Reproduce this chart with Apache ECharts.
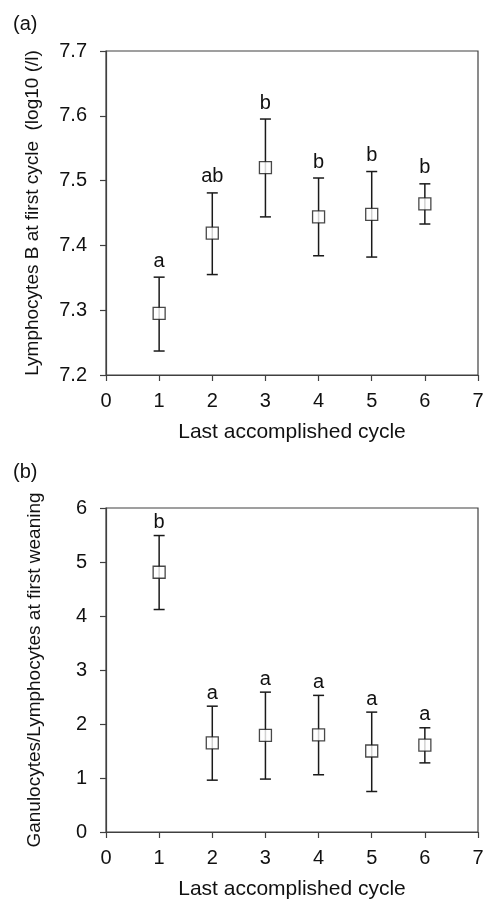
<!DOCTYPE html>
<html>
<head>
<meta charset="utf-8">
<script src="https://cdn.jsdelivr.net/npm/echarts@6/dist/echarts.min.js"></script>
<style>
  html, body { margin: 0; padding: 0; background: #fff; }
  #chart { width: 487px; height: 901px; }
</style>
</head>
<body>
<div id="chart"></div>
<script>
// ---- Data ----
const cycles = [1, 2, 3, 4, 5, 6];

// Panel (a): Lymphocytes B at first cycle (log10 (/l))
const lymphMean = [7.295, 7.419, 7.520, 7.444, 7.448, 7.464];
const lymphLow  = [7.237, 7.355, 7.444, 7.384, 7.382, 7.433];
const lymphHigh = [7.351, 7.481, 7.595, 7.504, 7.514, 7.495];
const lymphLetters = ['a', 'ab', 'b', 'b', 'b', 'b'];

// Panel (b): Granulocytes/Lymphocytes at first weaning
const ratioMean = [4.81, 1.65, 1.79, 1.80, 1.50, 1.61];
const ratioLow  = [4.12, 0.96, 0.98, 1.06, 0.75, 1.28];
const ratioHigh = [5.49, 2.33, 2.59, 2.53, 2.22, 1.93];
const ratioLetters = ['b', 'a', 'a', 'a', 'a', 'a'];

const xRange = [0, 7];
const yRangeA = [7.2, 7.7];
const yRangeB = [0, 6];

const FONT = 'Liberation Sans, Arial, Helvetica, sans-serif';
const AXIS_COLOR = '#404040';
const TEXT_COLOR = '#111';

function errorSeries(idx, low, high, letters, gap) {
  return {
    type: 'custom',
    xAxisIndex: idx, yAxisIndex: idx,
    z: 2,
    data: cycles.map((c, i) => [c, low[i], high[i]]),
    renderItem: function (params, api) {
      const x = api.value(0);
      const pLo = api.coord([x, api.value(1)]);
      const pHi = api.coord([x, api.value(2)]);
      const cap = 5.5;
      const st = { stroke: '#1a1a1a', lineWidth: 1.5 };
      return {
        type: 'group',
        children: [
          { type: 'line', shape: { x1: pHi[0], y1: pHi[1], x2: pLo[0], y2: pLo[1] }, style: st },
          { type: 'line', shape: { x1: pHi[0] - cap, y1: pHi[1], x2: pHi[0] + cap, y2: pHi[1] }, style: st },
          { type: 'line', shape: { x1: pLo[0] - cap, y1: pLo[1], x2: pLo[0] + cap, y2: pLo[1] }, style: st },
          { type: 'text', style: { text: letters[params.dataIndex], x: pHi[0], y: pHi[1] - gap,
              align: 'center', verticalAlign: 'bottom', fill: TEXT_COLOR,
              font: '20px ' + FONT } }
        ]
      };
    }
  };
}

function meanSeries(idx, mean) {
  return {
    type: 'scatter',
    xAxisIndex: idx, yAxisIndex: idx,
    z: 5,
    symbol: 'rect',
    symbolSize: 12,
    itemStyle: { color: '#fff', borderColor: '#1a1a1a', borderWidth: 1.3 },
    data: cycles.map((c, i) => [c, mean[i]])
  };
}

function xAxisDef(idx) {
  return {
    type: 'value', gridIndex: idx, min: xRange[0], max: xRange[1], interval: 1,
    name: 'Last accomplished cycle', nameLocation: 'middle', nameGap: 47,
    nameTextStyle: { fontFamily: FONT, fontSize: 21, color: TEXT_COLOR },
    axisLine: { onZero: false, lineStyle: { color: AXIS_COLOR, width: 1.2 } },
    axisTick: { inside: false, length: 6, lineStyle: { color: AXIS_COLOR, width: 1.2 } },
    axisLabel: { margin: 16, fontFamily: FONT, fontSize: 20, color: TEXT_COLOR },
    splitLine: { show: false }
  };
}

function yAxisDef(idx, range, interval, name, gap, fmt) {
  return {
    type: 'value', gridIndex: idx, min: range[0], max: range[1], interval: interval,
    name: name, nameLocation: 'middle', nameGap: gap,
    nameTextStyle: { fontFamily: FONT, fontSize: 19, color: TEXT_COLOR },
    axisLine: { show: true, onZero: false, lineStyle: { color: AXIS_COLOR, width: 1.2 } },
    axisTick: { show: true, inside: false, length: 6, lineStyle: { color: AXIS_COLOR, width: 1.2 } },
    axisLabel: { margin: 19, fontFamily: FONT, fontSize: 20, color: TEXT_COLOR, formatter: fmt },
    splitLine: { show: false }
  };
}

const chart = echarts.init(document.getElementById('chart'), null, { renderer: 'canvas' });
chart.setOption({
  backgroundColor: '#fff',
  animation: false,
  grid: [
    { left: 106, top: 51, width: 372, height: 324, show: true, borderColor: AXIS_COLOR, borderWidth: 1.2, backgroundColor: 'transparent' },
    { left: 106, top: 508, width: 372, height: 324, show: true, borderColor: AXIS_COLOR, borderWidth: 1.2, backgroundColor: 'transparent' }
  ],
  xAxis: [xAxisDef(0), xAxisDef(1)],
  yAxis: [
    yAxisDef(0, yRangeA, 0.1, 'Lymphocytes B at first cycle  (log10 (/l)', 64, v => v.toFixed(1)),
    yAxisDef(1, yRangeB, 1, 'Ganulocytes/Lymphocytes at first weaning', 62, v => String(Math.round(v)))
  ],
  graphic: [
    { type: 'text', left: 13, top: 14, style: { text: '(a)', font: '20px ' + FONT, fill: TEXT_COLOR } },
    { type: 'text', left: 13, top: 462, style: { text: '(b)', font: '20px ' + FONT, fill: TEXT_COLOR } }
  ],
  series: [
    errorSeries(0, lymphLow, lymphHigh, lymphLetters, 6),
    meanSeries(0, lymphMean),
    errorSeries(1, ratioLow, ratioHigh, ratioLetters, 3),
    meanSeries(1, ratioMean)
  ]
});
</script>
</body>
</html>
